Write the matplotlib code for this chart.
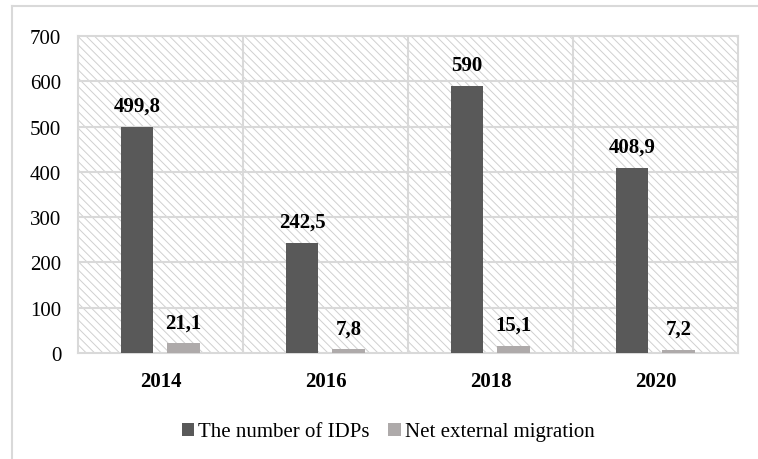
import matplotlib.pyplot as plt
import numpy as np
from matplotlib.patches import Rectangle
from matplotlib.lines import Line2D

plt.rcParams['font.family'] = ['Liberation Serif', 'DejaVu Serif']
plt.rcParams['hatch.linewidth'] = 0.7

years = ['2014', '2016', '2018', '2020']
idps = [499.8, 242.5, 590, 408.9]
migration = [21.1, 7.8, 15.1, 7.2]
idps_labels = ['499,8', '242,5', '590', '408,9']
migration_labels = ['21,1', '7,8', '15,1', '7,2']

fig = plt.figure(figsize=(7.58, 4.60), dpi=100)
ax = fig.add_axes([78/758, 106/460, 660/758, 317/460])

# фон с штриховкой
bg = Rectangle((0, 0), 1, 1, transform=ax.transAxes, facecolor='white',
               edgecolor='#d0d0d0', hatch='\\\\\\\\', lw=0, zorder=0)
ax.add_patch(bg)

x = np.arange(len(years))
w = 0.195
ax.bar(x - 0.142, idps, width=w, color='#595959', zorder=3, label='The number of IDPs')
ax.bar(x + 0.139, migration, width=w, color='#aeaaaa', zorder=3, label='Net external migration')

for xi, v, t in zip(x - 0.142, idps, idps_labels):
    ax.annotate(t, (xi, v), xytext=(0, 8), textcoords='offset points',
                ha='center', va='bottom', fontsize=15, fontweight='bold')
for xi, v, t in zip(x + 0.139, migration, migration_labels):
    ax.annotate(t, (xi, v), xytext=(0, 8), textcoords='offset points',
                ha='center', va='bottom', fontsize=15, fontweight='bold')

ax.set_xlim(-0.5, 3.5)
ax.set_ylim(0, 700)
ax.set_yticks(range(0, 701, 100))
ax.set_xticks(x)
ax.set_xticklabels(years, fontsize=15, fontweight='bold')
ax.tick_params(axis='y', length=0, labelsize=15, pad=12)
ax.tick_params(axis='x', length=0, pad=13)

# сетка
for yv in range(100, 700, 100):
    ax.axhline(yv, color='#d9d9d9', lw=1.5, zorder=1)
for xv in [0.5, 1.5, 2.5]:
    ax.axvline(xv, color='#d9d9d9', lw=1.5, zorder=1)
for s in ax.spines.values():
    s.set_color('#d9d9d9')
    s.set_linewidth(1.5)

ax.legend(loc='upper center', bbox_to_anchor=(0.47, -0.16), ncol=2, frameon=False,
          fontsize=15, handlelength=0.6, handleheight=0.6, handletextpad=0.2,
          columnspacing=0.9)

# рамка рисунка
fig.add_artist(Line2D([12/758, 12/758], [0, 1 - 7/460], color='#d9d9d9', lw=1.5))
fig.add_artist(Line2D([12/758, 1], [1 - 7/460, 1 - 7/460], color='#d9d9d9', lw=1.5))

fig.savefig('out.png', dpi=100)
